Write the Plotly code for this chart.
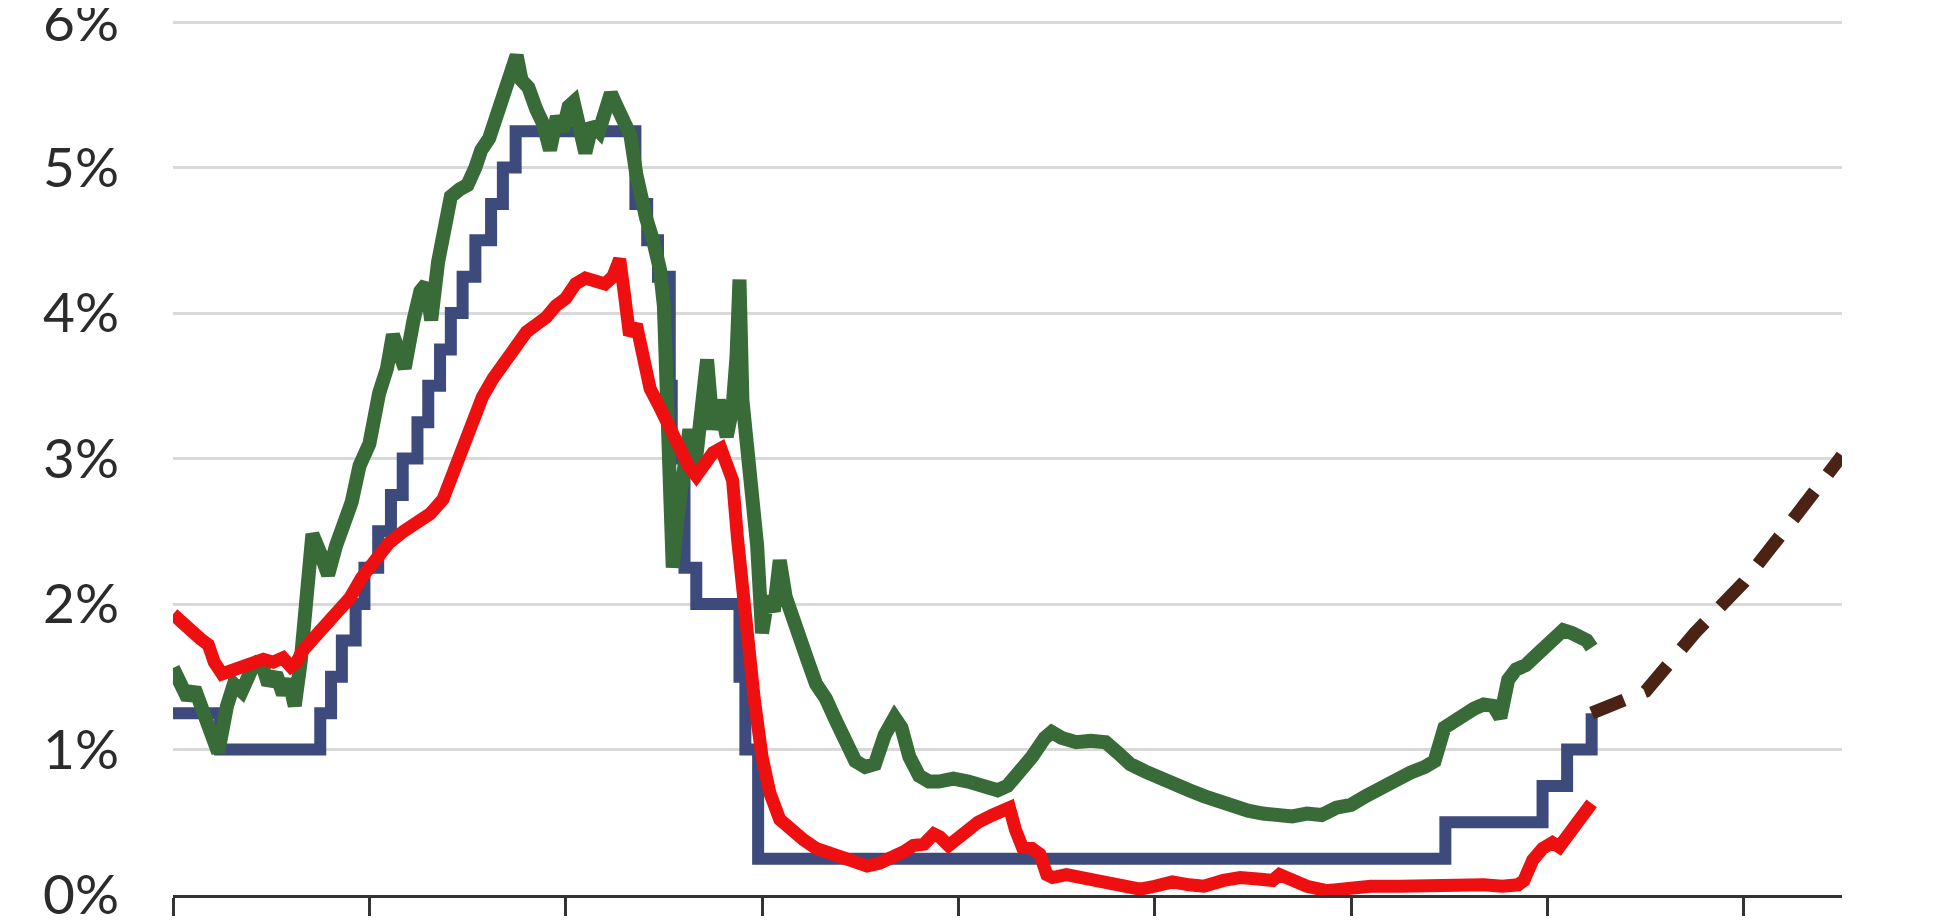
import plotly.graph_objects as go

# ---- Data (x in decimal years) ----
fed_x = [2003.00, 2003.48, 2004.50, 2004.61, 2004.72, 2004.86, 2004.95, 2005.09, 2005.22,
         2005.34, 2005.49, 2005.60, 2005.72, 2005.83, 2005.95, 2006.08, 2006.24, 2006.36,
         2006.49, 2007.71, 2007.83, 2007.94, 2008.06, 2008.08, 2008.21, 2008.33, 2008.77,
         2008.83, 2008.96, 2015.96, 2016.95, 2017.20, 2017.45]
fed_y = [1.25, 1.00, 1.25, 1.50, 1.75, 2.00, 2.25, 2.50, 2.75,
         3.00, 3.25, 3.50, 3.75, 4.00, 4.25, 4.50, 4.75, 5.00,
         5.25, 4.75, 4.50, 4.25, 3.50, 3.00, 2.25, 2.00, 1.50,
         1.00, 0.25, 0.50, 0.75, 1.00, 1.25]

green_x = [2003.00, 2003.08, 2003.15, 2003.22, 2003.30, 2003.38, 2003.46, 2003.55, 2003.62, 2003.70,
           2003.80, 2003.89, 2003.97, 2004.05, 2004.12, 2004.18, 2004.24, 2004.30, 2004.36, 2004.42,
           2004.50, 2004.58, 2004.66, 2004.74, 2004.82, 2004.90, 2005.00, 2005.10, 2005.18, 2005.24,
           2005.30, 2005.36, 2005.45, 2005.52, 2005.58, 2005.63, 2005.70, 2005.76, 2005.83, 2005.92,
           2006.00, 2006.08, 2006.14, 2006.22, 2006.30, 2006.38, 2006.45, 2006.50, 2006.55, 2006.62,
           2006.70, 2006.77, 2006.84, 2006.91, 2006.97, 2007.03, 2007.08, 2007.14, 2007.20, 2007.27,
           2007.34, 2007.40, 2007.46, 2007.52, 2007.58, 2007.66, 2007.72, 2007.76, 2007.82, 2007.89,
           2007.96, 2008.00, 2008.03, 2008.06, 2008.09, 2008.14, 2008.20, 2008.26, 2008.32, 2008.38,
           2008.44, 2008.50, 2008.56, 2008.64, 2008.70, 2008.74, 2008.77, 2008.80, 2008.85, 2008.90,
           2008.95, 2009.00, 2009.06, 2009.12, 2009.18, 2009.24, 2009.30, 2009.38, 2009.46, 2009.55,
           2009.65, 2009.75, 2009.85, 2009.95, 2010.05, 2010.15, 2010.25, 2010.35, 2010.42, 2010.50,
           2010.60, 2010.70, 2010.80, 2010.95, 2011.10, 2011.25, 2011.40, 2011.50, 2011.60, 2011.75,
           2011.88, 2011.95, 2012.05, 2012.20, 2012.35, 2012.50, 2012.62, 2012.75, 2012.90, 2013.05,
           2013.20, 2013.35, 2013.50, 2013.65, 2013.80, 2013.95, 2014.10, 2014.25, 2014.40, 2014.55,
           2014.70, 2014.85, 2015.00, 2015.15, 2015.30, 2015.45, 2015.60, 2015.75, 2015.85, 2015.95,
           2016.05, 2016.15, 2016.25, 2016.35, 2016.45, 2016.52, 2016.60, 2016.68, 2016.78, 2016.89,
           2016.98, 2017.05, 2017.16, 2017.25, 2017.33, 2017.40, 2017.45]
green_y = [1.56, 1.45, 1.35, 1.42, 1.25, 1.15, 0.98, 1.30, 1.45, 1.40,
           1.55, 1.62, 1.45, 1.52, 1.38, 1.48, 1.30, 1.60, 2.10, 2.48,
           2.35, 2.20, 2.40, 2.55, 2.70, 2.95, 3.10, 3.45, 3.62, 3.85,
           3.70, 3.62, 3.95, 4.15, 4.20, 3.95, 4.35, 4.55, 4.80, 4.85,
           4.88, 5.00, 5.12, 5.20, 5.35, 5.50, 5.65, 5.77, 5.60, 5.55,
           5.40, 5.30, 5.12, 5.35, 5.25, 5.42, 5.45, 5.25, 5.10, 5.30,
           5.25, 5.38, 5.51, 5.42, 5.35, 5.22, 4.95, 4.80, 4.65, 4.50,
           4.30, 4.05, 3.60, 2.80, 2.25, 2.60, 2.85, 3.20, 2.95, 3.35,
           3.68, 3.20, 3.40, 3.15, 3.35, 3.70, 4.23, 3.40, 3.05, 2.85,
           2.40, 1.80, 2.05, 1.95, 2.30, 2.05, 1.95, 1.80, 1.62, 1.45,
           1.35, 1.20, 1.05, 0.92, 0.88, 0.90, 1.10, 1.22, 1.15, 0.95,
           0.82, 0.78, 0.78, 0.80, 0.78, 0.76, 0.72, 0.75, 0.82, 0.95,
           1.08, 1.12, 1.08, 1.05, 1.06, 1.05, 0.98, 0.90, 0.85, 0.80,
           0.76, 0.72, 0.68, 0.64, 0.60, 0.58, 0.56, 0.55, 0.54, 0.56,
           0.55, 0.60, 0.62, 0.68, 0.74, 0.80, 0.84, 0.88, 0.92, 1.15,
           1.20, 1.25, 1.28, 1.31, 1.30, 1.22, 1.48, 1.55, 1.58, 1.65,
           1.70, 1.75, 1.82, 1.80, 1.78, 1.75, 1.70]

red_x = [2003.00, 2003.08, 2003.18, 2003.28, 2003.36, 2003.42, 2003.50, 2003.58, 2003.70, 2003.80,
         2003.92, 2004.02, 2004.12, 2004.20, 2004.26, 2004.32, 2004.44, 2004.56, 2004.68, 2004.80,
         2004.92, 2005.05, 2005.20, 2005.35, 2005.50, 2005.62, 2005.75, 2005.85, 2005.95, 2006.05,
         2006.15, 2006.26, 2006.40, 2006.50, 2006.60, 2006.70, 2006.80, 2006.90, 2007.00, 2007.10,
         2007.20, 2007.30, 2007.40, 2007.48, 2007.55, 2007.60, 2007.65, 2007.72, 2007.77, 2007.86,
         2007.96, 2008.06, 2008.16, 2008.25, 2008.33, 2008.42, 2008.50, 2008.58, 2008.65, 2008.70,
         2008.75, 2008.80, 2008.85, 2008.92, 2009.00, 2009.08, 2009.18, 2009.30, 2009.42, 2009.55,
         2009.66, 2009.80, 2009.93, 2010.07, 2010.20, 2010.33, 2010.45, 2010.54, 2010.65, 2010.75,
         2010.81, 2010.90, 2011.00, 2011.10, 2011.20, 2011.35, 2011.45, 2011.52, 2011.58, 2011.65,
         2011.75, 2011.83, 2011.90, 2011.96, 2012.10, 2012.25, 2012.40, 2012.55, 2012.70, 2012.85,
         2013.00, 2013.18, 2013.35, 2013.50, 2013.70, 2013.87, 2014.05, 2014.20, 2014.27, 2014.40,
         2014.55, 2014.75, 2014.95, 2015.20, 2015.50, 2015.80, 2016.10, 2016.35, 2016.54, 2016.70,
         2016.76, 2016.85, 2016.95, 2017.05, 2017.12, 2017.22, 2017.30, 2017.38, 2017.45]
red_y = [1.93, 1.88, 1.80, 1.76, 1.72, 1.60, 1.52, 1.54, 1.57, 1.58,
         1.62, 1.60, 1.63, 1.57, 1.60, 1.68, 1.77, 1.86, 1.95, 2.04,
         2.18, 2.28, 2.42, 2.50, 2.57, 2.62, 2.72, 2.90, 3.05, 3.25,
         3.42, 3.55, 3.68, 3.78, 3.87, 3.92, 3.97, 4.05, 4.10, 4.20,
         4.24, 4.22, 4.20, 4.25, 4.37, 4.12, 3.85, 3.92, 3.78, 3.48,
         3.35, 3.20, 3.07, 2.95, 2.88, 2.97, 3.04, 3.07, 2.95, 2.85,
         2.45, 2.10, 1.80, 1.35, 0.95, 0.70, 0.52, 0.44, 0.38, 0.32,
         0.29, 0.26, 0.24, 0.20, 0.22, 0.25, 0.30, 0.34, 0.35, 0.42,
         0.40, 0.34, 0.40, 0.44, 0.50, 0.55, 0.58, 0.60, 0.45, 0.33,
         0.32, 0.28, 0.14, 0.12, 0.14, 0.12, 0.09, 0.08, 0.06, 0.04,
         0.06, 0.09, 0.07, 0.06, 0.10, 0.12, 0.11, 0.10, 0.14, 0.10,
         0.06, 0.03, 0.05, 0.06, 0.06, 0.07, 0.08, 0.07, 0.06, 0.07,
         0.10, 0.24, 0.32, 0.36, 0.33, 0.42, 0.49, 0.56, 0.63]

proj_x = [2017.45, 2017.75, 2018.00, 2018.50, 2019.00, 2019.50, 2020.00]
proj_y = [1.25, 1.33, 1.40, 1.80, 2.15, 2.58, 3.02]

y_ticks = [0, 1, 2, 3, 4, 5, 6]
y_tick_labels = ["0%", "1%", "2%", "3%", "4%", "5%", "6%"]

fig = go.Figure()
fig.add_trace(go.Scatter(x=fed_x, y=fed_y, mode="lines", line_shape="hv",
                         line=dict(color="#3c4a7c", width=12), showlegend=False))
fig.add_trace(go.Scatter(x=green_x, y=green_y, mode="lines",
                         line=dict(color="#386b37", width=14), showlegend=False))
fig.add_trace(go.Scatter(x=red_x, y=red_y, mode="lines",
                         line=dict(color="#ee1010", width=13), showlegend=False))
fig.add_trace(go.Scatter(x=proj_x, y=proj_y, mode="lines",
                         line=dict(color="#4b2314", width=13, dash="35px,22px"), showlegend=False))

# The page body has an 8px default margin, so the figure starts at (8, 8).
fig.update_layout(
    width=1928, height=908,
    margin=dict(l=165, r=94, t=13, b=21, autoexpand=False),
    paper_bgcolor="white", plot_bgcolor="white",
    font=dict(family="Lato, 'Open Sans', sans-serif", color="#2b2b2b"),
)
fig.update_xaxes(range=[2003, 2020], tick0=2003, dtick=2, showticklabels=False,
                 showgrid=False, zeroline=False, showline=True, linecolor="#333333",
                 linewidth=3, ticks="outside", ticklen=18, tickwidth=3, tickcolor="#333333",
                 automargin=False)
fig.update_yaxes(range=[0, 6.007], tickvals=y_ticks, ticktext=y_tick_labels,
                 showgrid=True, gridcolor="#d9d9d9", gridwidth=3, zeroline=False,
                 showline=False, ticks="", ticklabelstandoff=53, automargin=False,
                 ticklabeloverflow="allow",
                 tickfont=dict(size=55, color="#2b2b2b"))

fig.write_html("out.html")
